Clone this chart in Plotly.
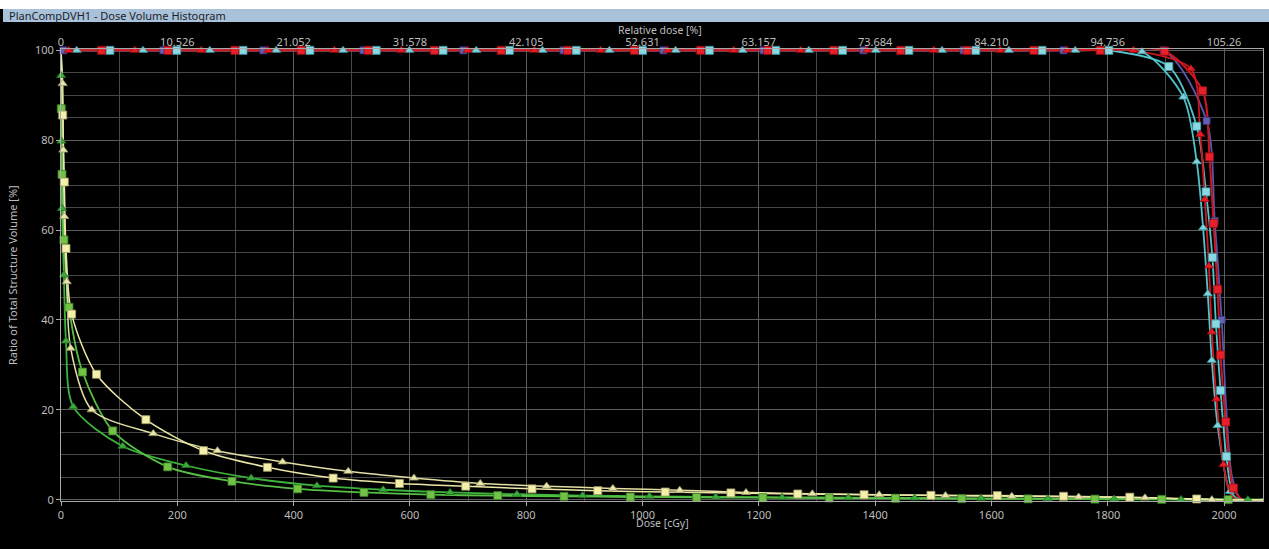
import plotly.graph_objects as go

# ---------------- data ----------------
dose_ticks = [0, 200, 400, 600, 800, 1000, 1200, 1400, 1600, 1800, 2000]
rel_dose_labels = ["0", "10.526", "21.052", "31.578", "42.105", "52.631",
                   "63.157", "73.684", "84.210", "94.736", "105.26"]
vol_ticks = [0, 20, 40, 60, 80, 100]

start_dose = [0]
start_vol = [100]

# target structures (red / cyan / purple)
red_sq_mk_dose = [70, 184, 299, 413, 528, 642, 757, 871, 986, 1100, 1215, 1329, 1444,
                  1558, 1673, 1787, 1898, 1963, 1975, 1982, 1989, 1994, 2003, 2016]
red_sq_mk_vol = [100, 100, 100, 100, 100, 100, 100, 100, 100, 100, 100, 100, 100,
                 100, 100, 100, 99.8, 91, 76.3, 61.5, 46.8, 32.2, 17.3, 2.6]
red_sq_tail_dose = [2032, 2067]
red_sq_tail_vol = [0, 0]

red_tri_mk_dose = [13, 127, 241, 356, 470, 585, 699, 814, 928, 1043, 1157, 1272, 1386,
                   1501, 1615, 1730, 1844, 1943, 1959, 1967, 1974, 1979, 1987, 1999]
red_tri_mk_vol = [100, 100, 100, 100, 100, 100, 100, 100, 100, 100, 100, 100, 100,
                  100, 100, 100, 100, 95.9, 81.3, 66.8, 52, 37.3, 22.4, 7.8]
red_tri_tail_dose = [2011, 2024, 2067]
red_tri_tail_vol = [1.2, 0, 0]

cyan_sq_mk_dose = [84, 199, 313, 428, 542, 657, 771, 886, 1000, 1115, 1229, 1344, 1458,
                   1573, 1687, 1802, 1905, 1953, 1969, 1980, 1986, 1994, 2004]
cyan_sq_mk_vol = [100, 100, 100, 100, 100, 100, 100, 100, 100, 100, 100, 100, 100,
                  100, 100, 100, 96.4, 83.1, 68.5, 53.9, 39.1, 24.3, 9.6]
cyan_sq_tail_dose = [2016, 2030, 2067]
cyan_sq_tail_vol = [1.0, 0, 0]

cyan_tri_mk_dose = [27, 141, 256, 370, 485, 599, 714, 828, 943, 1057, 1172, 1286, 1401,
                    1515, 1630, 1744, 1859, 1930, 1953, 1964, 1972, 1979, 1989, 2010]
cyan_tri_mk_vol = [100, 100, 100, 100, 100, 100, 100, 100, 100, 100, 100, 100, 100,
                   100, 100, 100, 99.7, 89.6, 75.2, 60.5, 45.8, 31, 16.5, 1.8]
cyan_tri_tail_dose = [2024, 2067]
cyan_tri_tail_vol = [0, 0]

purple_mk_dose = [4, 176, 348, 520, 692, 864, 1036, 1208, 1380, 1552, 1724, 1896,
                  1970, 1984, 1996]
purple_mk_vol = [100, 100, 100, 100, 100, 100, 100, 100, 100, 100, 100, 100,
                 84.3, 62, 40]
purple_tail_dose = [2004, 2014, 2030, 2067]
purple_tail_vol = [20, 5, 0, 0]

# organs at risk (green / yellow)
yel_sq_mk_dose = [2.9, 5.7, 8.6, 18.3, 61, 146, 245, 355, 468, 582, 696, 810, 923,
                  1039, 1152, 1267, 1381, 1496, 1610, 1724, 1838, 1953]
yel_sq_mk_vol = [85.6, 70.7, 55.9, 41.3, 27.9, 17.8, 10.9, 7.2, 4.8, 3.6, 3.0, 2.4, 2.0,
                 1.7, 1.5, 1.26, 1.1, 0.96, 0.9, 0.75, 0.55, 0.15]
yel_sq_tail_dose = [2005, 2067]
yel_sq_tail_vol = [0, 0]

yel_tri_mk_dose = [2.9, 4.0, 5.7, 9.8, 16.6, 52.8, 158.7, 269, 381, 494, 607, 721, 835,
                   949, 1064, 1178, 1292, 1407, 1521, 1635, 1750, 1864, 1979]
yel_tri_mk_vol = [92.6, 77.8, 63, 48.5, 33.7, 20, 14.7, 10.9, 8.4, 6.3, 4.8, 3.6, 3.0,
                  2.5, 2.1, 1.6, 1.3, 1.1, 0.9, 0.75, 0.6, 0.4, 0.0]
yel_tri_tail_dose = [2067]
yel_tri_tail_vol = [0]

grn_sq_mk_dose = [0.5, 1.7, 5, 13.8, 37, 89, 183.5, 294, 407, 521, 636, 751, 865, 979,
                  1093, 1207, 1321, 1435, 1549, 1663, 1778, 1893, 2007]
grn_sq_mk_vol = [87, 72.4, 57.8, 42.8, 28.4, 15.3, 7.3, 4.1, 2.4, 1.6, 1.1, 0.9, 0.74,
                 0.59, 0.52, 0.44, 0.37, 0.3, 0.22, 0.17, 0.12, 0.06, 0.0]
grn_sq_tail_dose = [2067]
grn_sq_tail_vol = [0]

grn_tri_mk_dose = [0.3, 0.7, 1.7, 5, 8.6, 21, 106, 215, 327, 440, 554, 669, 784, 897,
                   1012, 1126, 1240, 1354, 1468, 1582, 1697, 1811, 1926, 2041]
grn_tri_mk_vol = [94.4, 79.8, 64.8, 50, 35.3, 20.7, 11.9, 7.6, 4.8, 3.1, 2.2, 1.6, 1.2,
                  0.9, 0.74, 0.6, 0.52, 0.44, 0.37, 0.3, 0.22, 0.15, 0.05, 0.0]
grn_tri_tail_dose = [2067]
grn_tri_tail_vol = [0]

# ---------------- styles ----------------
series = [
    # name, mk dose, mk vol, tail dose, tail vol, line color, fill, edge, symbol, size, width
    ("purple", purple_mk_dose, purple_mk_vol, purple_tail_dose, purple_tail_vol,
     "#5a55a8", "#6660b4", "#3a3680", "square", 7, 1.8),
    ("cyan_tri", cyan_tri_mk_dose, cyan_tri_mk_vol, cyan_tri_tail_dose, cyan_tri_tail_vol,
     "#52c4cc", "#7fd2dc", "#3a9ca4", "triangle-up", 8, 1.8),
    ("cyan_sq", cyan_sq_mk_dose, cyan_sq_mk_vol, cyan_sq_tail_dose, cyan_sq_tail_vol,
     "#52c4cc", "#8ad8e2", "#3a9ca4", "square", 8, 1.8),
    ("red_tri", red_tri_mk_dose, red_tri_mk_vol, red_tri_tail_dose, red_tri_tail_vol,
     "#cc1620", "#e81c24", "#9a0c12", "triangle-up", 8, 1.8),
    ("red_sq", red_sq_mk_dose, red_sq_mk_vol, red_sq_tail_dose, red_sq_tail_vol,
     "#cc1620", "#e8202a", "#9a0c12", "square", 8, 2.0),
    ("grn_tri", grn_tri_mk_dose, grn_tri_mk_vol, grn_tri_tail_dose, grn_tri_tail_vol,
     "#3cb43c", "#3caa3c", "#246e24", "triangle-up", 8, 1.8),
    ("grn_sq", grn_sq_mk_dose, grn_sq_mk_vol, grn_sq_tail_dose, grn_sq_tail_vol,
     "#56c044", "#72c246", "#3a7e2a", "square", 8, 1.8),
    ("yel_tri", yel_tri_mk_dose, yel_tri_mk_vol, yel_tri_tail_dose, yel_tri_tail_vol,
     "#e4e0a4", "#e8e6aa", "#9a9868", "triangle-up", 8, 1.5),
    ("yel_sq", yel_sq_mk_dose, yel_sq_mk_vol, yel_sq_tail_dose, yel_sq_tail_vol,
     "#ece8a6", "#f4f0aa", "#a09a6a", "square", 8, 1.5),
]

fig = go.Figure()

# lines first
for name, md, mv, td, tv, lc, fc, ec, sym, sz, lw in series:
    fig.add_trace(go.Scatter(
        x=start_dose + md + td, y=start_vol + mv + tv, mode="lines",
        line=dict(color=lc, width=lw, shape="spline", smoothing=0.8),
        hoverinfo="skip", showlegend=False))

# then markers
for name, md, mv, td, tv, lc, fc, ec, sym, sz, lw in series:
    fig.add_trace(go.Scatter(
        x=md, y=mv, mode="markers", name=name,
        marker=dict(symbol=sym, size=sz, color=fc, line=dict(color=ec, width=0.8)),
        cliponaxis=False, showlegend=False))

FONT = "Noto Sans"
TICKC = "#bdbdbd"

# invisible trace for the top axis
fig.add_trace(go.Scatter(x=[0], y=[0], xaxis="x2", mode="markers",
                         marker=dict(opacity=0), hoverinfo="skip", showlegend=False))

L, R, T, B = 61, 6, 49, 48
W, H = 1269, 549
PW, PH = W - L - R, H - T - B


def px2x(px):
    return (px - L) / PW


def py2y(py):
    return (H - B - py) / PH


fig.update_layout(
    width=W, height=H,
    margin=dict(l=L, r=R, t=T, b=B, autoexpand=False),
    paper_bgcolor="#000000", plot_bgcolor="#000000",
    font=dict(family=FONT, size=11, color=TICKC),
    xaxis=dict(range=[0, 2067], tickvals=dose_ticks, showgrid=True, gridcolor="#5c5c5c",
               gridwidth=1, minor=dict(dtick=100, tick0=0, showgrid=True, gridcolor="#484848"),
               showline=True, linecolor="#a8a8a8", linewidth=1, mirror=True,
               ticks="outside", ticklen=4, tickcolor="#a8a8a8",
               tickfont=dict(size=11, color=TICKC), zeroline=False, automargin=False),
    xaxis2=dict(range=[0, 2067], overlaying="x", side="top", tickvals=dose_ticks,
                ticktext=rel_dose_labels, showgrid=False, ticks="", showline=False,
                tickfont=dict(size=11, color=TICKC), zeroline=False, automargin=False),
    yaxis=dict(range=[-0.3, 100.3], tickvals=vol_ticks, showgrid=True, gridcolor="#5c5c5c",
               minor=dict(dtick=5, tick0=0, showgrid=True, gridcolor="#484848"),
               showline=True, linecolor="#a8a8a8", linewidth=1, mirror=True,
               ticks="outside", ticklen=4, tickcolor="#a8a8a8",
               tickfont=dict(size=11, color=TICKC), zeroline=False, automargin=False),
    shapes=[
        dict(type="rect", xref="paper", yref="paper", x0=px2x(-2), x1=px2x(W + 2),
             y0=py2y(9), y1=py2y(-2), fillcolor="#ffffff", line=dict(width=0), layer="above"),
        dict(type="rect", xref="paper", yref="paper", x0=px2x(3), x1=px2x(W + 2),
             y0=py2y(22), y1=py2y(9), fillcolor="#a9c1d9", line=dict(width=0), layer="above"),
    ],
    annotations=[
        dict(text="PlanCompDVH1 - Dose Volume Histogram", xref="paper", yref="paper",
             x=px2x(7), y=py2y(15.5), xanchor="left", yanchor="middle", showarrow=False,
             font=dict(family=FONT, size=11, color="#1b1f2a")),
        dict(text="Relative dose [%]", xref="paper", yref="paper",
             x=px2x(660), y=py2y(30), xanchor="center", yanchor="middle", showarrow=False,
             font=dict(family=FONT, size=10.5, color=TICKC)),
        dict(text="Dose [cGy]", xref="paper", yref="paper",
             x=px2x(662), y=py2y(522.5), xanchor="center", yanchor="middle", showarrow=False,
             font=dict(family=FONT, size=10.5, color=TICKC)),
        dict(text="Ratio of Total Structure Volume [%]", xref="paper", yref="paper",
             x=px2x(12), y=py2y(275), xanchor="center", yanchor="middle", showarrow=False,
             textangle=-90, font=dict(family=FONT, size=11, color=TICKC)),
        dict(text="Some structures are unapproved or rejected", xref="paper", yref="paper",
             x=px2x(661), y=py2y(543), xanchor="center", yanchor="top", showarrow=False,
             font=dict(family=FONT, size=11, color=TICKC)),
    ],
)

fig.write_html(
    "out.html",
    config={"displayModeBar": False},
    post_script="document.body.style.margin='0';document.body.style.padding='0';"
                "document.body.style.overflow='hidden';",
)
